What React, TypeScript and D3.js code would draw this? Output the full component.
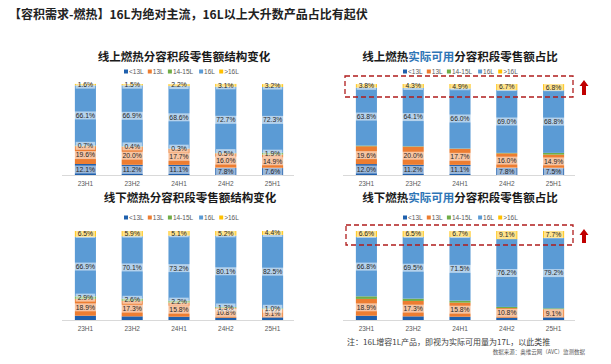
import React, { useEffect, useRef } from 'react';
import * as d3 from 'd3';

const periods = ['23H1', '23H2', '24H1', '24H2', '25H1'];
const segments = ['<13L', '13L', '14-15L', '16L', '>16L'];
const segColors = ['#1f60ad', '#ed7d31', '#70ad47', '#5b9bd5', '#ffc000'];

// 每行一个时间段: <13L, 13L, 14-15L, 16L, >16L
const onlineBase = [
  [12.1, 19.6, 0.7, 66.1, 1.6],
  [11.2, 20.0, 0.4, 66.9, 1.5],
  [11.1, 17.7, 0.3, 68.6, 2.2],
  [7.8, 16.0, 0.5, 72.7, 3.1],
  [7.6, 14.9, 1.9, 72.3, 3.2],
];
const onlineActual = [
  [12.0, 19.6, 0.7, 63.8, 3.8],
  [11.2, 20.0, 0.4, 64.1, 4.3],
  [11.1, 17.7, 0.3, 66.0, 4.9],
  [7.8, 16.0, 0.5, 69.0, 6.7],
  [7.5, 14.9, 1.9, 68.8, 6.8],
];
const offlineBase = [
  [4.8, 18.9, 2.9, 66.9, 6.5],
  [4.1, 17.3, 2.6, 70.1, 5.9],
  [3.7, 15.8, 2.2, 73.2, 5.1],
  [2.6, 10.8, 1.3, 80.1, 5.2],
  [3.0, 9.1, 1.0, 82.5, 4.4],
];
const offlineActual = [
  [4.8, 18.9, 2.9, 66.8, 6.6],
  [4.1, 17.3, 2.6, 69.5, 6.5],
  [3.7, 15.8, 2.2, 71.5, 6.7],
  [2.6, 10.8, 1.3, 76.2, 9.1],
  [3.0, 9.1, 1.0, 79.2, 7.7],
];

const DARK = '#1a1a1a';
const BLUE = '#2e75b6';
const RED = '#b01c1c';
const CJK = '"Noto Sans CJK SC", "Noto Sans", sans-serif';
const LATIN = '"Liberation Sans", Arial, sans-serif';

const charts = [
  {
    title: [['线上燃热分容积段零售额结构变化', DARK]],
    titleX: 184, titleY: 61, legendX: 124, legendY: 72,
    x0: 62, x1: 296, yTop: 84, yBottom: 175,
    data: onlineBase, hide: [] as string[], box: null as null | number[],
  },
  {
    title: [['线上燃热', DARK], ['实际可用', BLUE], ['分容积段零售额占比', DARK]],
    titleX: 460, titleY: 61, legendX: 403, legendY: 72,
    x0: 343, x1: 577, yTop: 84, yBottom: 175,
    data: onlineActual, hide: ['14-15L'], box: [345, 76, 228, 21],
  },
  {
    title: [['线下燃热分容积段零售额结构变化', DARK]],
    titleX: 190, titleY: 202, legendX: 124, legendY: 218,
    x0: 62, x1: 296, yTop: 231, yBottom: 320,
    data: offlineBase, hide: ['<13L'], box: null,
  },
  {
    title: [['线下燃热', DARK], ['实际可用', BLUE], ['分容积段零售额占比', DARK]],
    titleX: 460, titleY: 202, legendX: 403, legendY: 218,
    x0: 343, x1: 577, yTop: 231, yBottom: 320,
    data: offlineActual, hide: ['<13L', '14-15L'], box: [346, 225, 227, 20],
  },
];

const App = () => {
  const svgRef = useRef<SVGSVGElement>(null);

  useEffect(() => {
    const svg = d3.select(svgRef.current);
    svg.selectAll('*').remove();

    svg.append('rect').attr('width', 611).attr('height', 364).attr('fill', '#fff');

    svg.append('text')
      .attr('x', 9).attr('y', 19)
      .attr('font-family', CJK).attr('font-size', 12).attr('font-weight', 700)
      .attr('fill', '#222')
      .text('【容积需求-燃热】16L为绝对主流，16L以上大升数产品占比有起伏');

    charts.forEach(c => {
      const g = svg.append('g');

      // 标题
      const t = g.append('text')
        .attr('x', c.titleX).attr('y', c.titleY)
        .attr('text-anchor', 'middle')
        .attr('font-family', CJK).attr('font-size', 11.5).attr('font-weight', 700);
      c.title.forEach(([s, col]) => t.append('tspan').attr('fill', col).text(s));

      // 图例
      let lx = c.legendX;
      segments.forEach((s, i) => {
        g.append('rect').attr('x', lx).attr('y', c.legendY - 2.5)
          .attr('width', 4).attr('height', 4).attr('fill', segColors[i]);
        g.append('text').attr('x', lx + 5).attr('y', c.legendY + 2.3)
          .attr('font-family', LATIN)
          .attr('font-size', 6.5).attr('fill', '#595959').text(s);
        lx += 5 + s.length * 3.7 + 4;
      });

      const rows = c.data.map((r, i) => {
        const o: any = { period: periods[i] };
        segments.forEach((s, j) => { o[s] = r[j]; });
        return o;
      });
      const series = d3.stack().keys(segments)(rows);

      const x = d3.scaleBand().domain(periods).range([c.x0, c.x1]);
      const y = d3.scaleLinear().domain([0, 100]).range([c.yBottom, c.yTop]);
      const bw = x.step() * 0.45;

      // 坐标轴线
      g.append('line')
        .attr('x1', c.x0).attr('x2', c.x1 - 2)
        .attr('y1', c.yBottom + 0.5).attr('y2', c.yBottom + 0.5)
        .attr('stroke', '#d9d9d9').attr('stroke-width', 1);

      series.forEach((ser, si) => {
        g.append('g').selectAll('rect').data(ser).join('rect')
          .attr('x', d => x(d.data.period as string)! + (x.step() - bw) / 2)
          .attr('y', d => y(d[1]))
          .attr('width', bw)
          .attr('height', d => y(d[0]) - y(d[1]))
          .attr('fill', segColors[si]);
      });

      // 数据标签
      series.forEach(ser => {
        if (c.hide.includes(ser.key)) return;
        ser.forEach(d => {
          const cx = x(d.data.period as string)! + x.step() / 2;
          const cy = (y(d[0]) + y(d[1])) / 2;
          const lg = g.append('g');
          const txt = lg.append('text')
            .attr('x', cx).attr('y', cy + 2.4)
            .attr('text-anchor', 'middle')
            .attr('font-family', LATIN)
            .attr('font-size', 6.8).attr('fill', '#262626')
            .text((d[1] - d[0]).toFixed(1) + '%');
          const w = (txt.node() as SVGTextElement).getComputedTextLength();
          lg.insert('rect', 'text')
            .attr('x', cx - w / 2 - 2).attr('y', cy - 4)
            .attr('width', w + 4).attr('height', 8)
            .attr('fill', '#fff').attr('fill-opacity', 0.55);
        });
      });

      // x轴标签
      g.append('g').selectAll('text').data(periods).join('text')
        .attr('x', d => x(d)! + x.step() / 2)
        .attr('y', c.yBottom + 11)
        .attr('text-anchor', 'middle')
        .attr('font-family', LATIN)
        .attr('font-size', 6.5).attr('fill', '#595959')
        .text(d => d);

      // 红色虚线框和箭头
      if (c.box) {
        const [bx, by, bwid, bh] = c.box;
        g.append('rect')
          .attr('x', bx).attr('y', by).attr('width', bwid).attr('height', bh)
          .attr('fill', 'none').attr('stroke', RED).attr('stroke-width', 1.3)
          .attr('stroke-dasharray', '5,3');
        const ax = bx + bwid + 11;
        const at = by + 4;
        const ab = by + bh - 2;
        g.append('path')
          .attr('d', `M${ax},${at} L${ax + 4.5},${at + 6} L${ax + 2},${at + 6} L${ax + 2},${ab} L${ax - 2},${ab} L${ax - 2},${at + 6} L${ax - 4.5},${at + 6} Z`)
          .attr('fill', '#c00000');
      }
    });

    svg.append('text')
      .attr('x', 347).attr('y', 345)
      .attr('font-family', CJK).attr('font-size', 8).attr('fill', '#404040')
      .text('注：16L增容1L产品，即视为实际可用量为17L，以此类推');

    svg.append('text')
      .attr('x', 585).attr('y', 353.5)
      .attr('text-anchor', 'end')
      .attr('font-family', CJK).attr('font-size', 5.5).attr('fill', '#595959')
      .text('数据来源：奥维云网（AVC）监测数据');
  }, []);

  return (
    <svg ref={svgRef} width={611} height={364}
      style={{ position: 'absolute', left: 0, top: 0 }} />
  );
};

export default App;
